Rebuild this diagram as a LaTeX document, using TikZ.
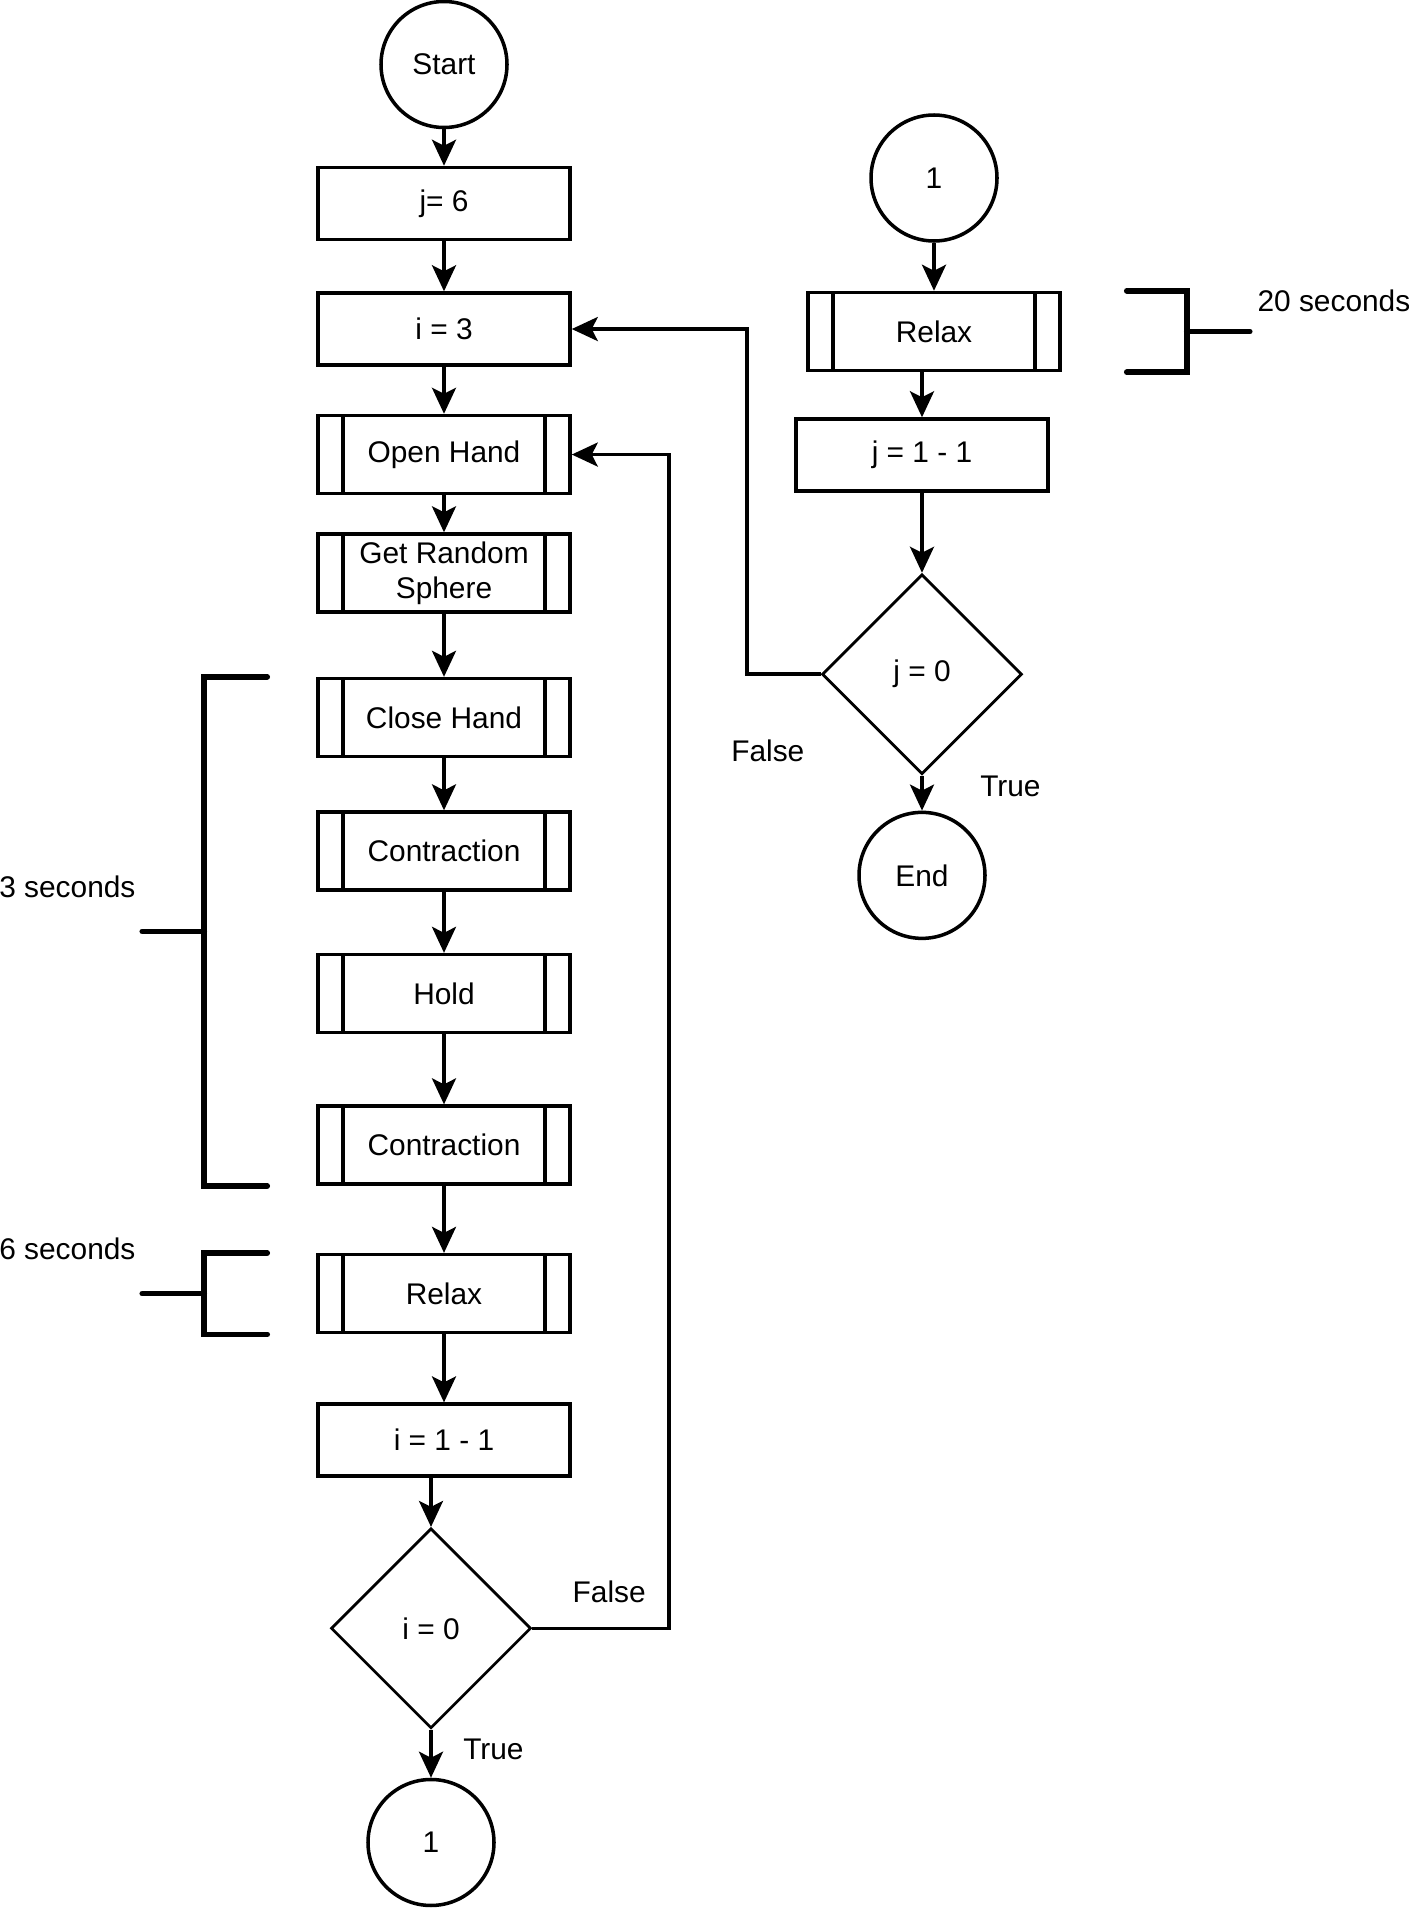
\documentclass[tikz,border=0pt]{standalone}
\usepackage{fontspec}
\setmainfont{Liberation Sans}
\usetikzlibrary{arrows.meta, positioning, shapes.geometric, calc}

\begin{document}
\begin{tikzpicture}[
  font=\fontsize{8.5}{10}\selectfont,
  line width=1pt,
  proc/.style={rectangle, draw, align=center, minimum width=2.52cm, minimum height=0.72cm, inner sep=1pt},
  sub/.style={proc, minimum height=0.78cm, path picture={
      \draw ([xshift=0.25cm]path picture bounding box.north west) -- ([xshift=0.25cm]path picture bounding box.south west);
      \draw ([xshift=-0.25cm]path picture bounding box.north east) -- ([xshift=-0.25cm]path picture bounding box.south east);}},
  term/.style={circle, draw, minimum size=1.26cm, inner sep=0pt},
  dec/.style={diamond, draw, line width=0.8pt, minimum width=2.0cm, minimum height=2.0cm, inner sep=0pt},
  arr/.style={-{Stealth[length=2.6mm, width=2.4mm, inset=0.6mm]}},
  brk/.style={line width=1.6pt, line cap=round},
  lbl/.style={inner sep=1pt}
]
\useasboundingbox (0,0) rectangle (14.09,-19.08);

% main loop
\node[term] (start) at (4.44,-0.645) {Start};
\node[proc, below=0.365cm of start] (jset) {j= 6};
\node[proc, below=0.50cm of jset] (iset) {i = 3};
\node[sub, below=0.47cm of iset] (open) {Open Hand};
\node[sub, below=0.37cm of open] (grab) {Get Random\\Sphere};
\node[sub, below=0.63cm of grab] (close) {Close Hand};
\node[sub, below=0.52cm of close] (con1) {Contraction};
\node[sub, below=0.61cm of con1] (hold) {Hold};
\node[sub, below=0.70cm of hold] (con2) {Contraction};
\node[sub, below=0.67cm of con2] (relax1) {Relax};
\node[proc, below=0.68cm of relax1] (icount) {i = 1 - 1};
\node[dec, below=0.49cm of icount, xshift=-0.13cm] (idec) {i = 0};
\node[term, below=0.48cm of idec] (conn1) {1};

\draw[arr] (start) -- (jset);
\draw[arr] (jset) -- (iset);
\draw[arr] (iset) -- (open);
\draw[arr] (open) -- (grab);
\draw[arr] (grab) -- (close);
\draw[arr] (close) -- (con1);
\draw[arr] (con1) -- (hold);
\draw[arr] (hold) -- (con2);
\draw[arr] (con2) -- (relax1);
\draw[arr] (relax1) -- (icount);
\draw[arr] (icount.south -| idec.north) -- (idec.north);
\draw[arr] (idec) -- node[lbl, right=0.27cm, pos=0.4] {True} (conn1);

\coordinate[right=0.97cm of open.east] (loop1);
\draw[arr] (idec.east) -| (loop1) -- (open.east);
\node[lbl, above right=0.20cm and 0.35cm of idec.east] {False};

% rest block
\node[term] (conn2) at (9.34,-1.78) {1};
\node[sub, below=0.48cm of conn2] (relax2) {Relax};
\node[proc, below=0.45cm of relax2, xshift=-0.12cm] (jcount) {j = 1 - 1};
\node[dec, below=0.80cm of jcount] (jdec) {j = 0};
\node[term, below=0.35cm of jdec] (finish) {End};

\draw[arr] (conn2) -- (relax2);
\draw[arr] (relax2.south -| jcount.north) -- (jcount.north);
\draw[arr] (jcount) -- (jdec);
\draw[arr] (jdec) -- node[lbl, right=0.53cm, pos=0.3] {True} (finish);

\coordinate[right=1.75cm of iset.east] (loop2);
\draw[arr] (jdec.west) -| (loop2) -- (iset.east);
\node[lbl, below left=0.60cm and 0.11cm of jdec.west] {False};

% timing brackets
\coordinate (b3top) at ([xshift=-1.12cm]close.north west);
\coordinate (b3bot) at ([xshift=-1.12cm]con2.south west);
\coordinate (b3mid) at ($(b3top)!0.5!(b3bot)$);
\draw[brk] ([xshift=-0.49cm]close.north west) -- (b3top) -- (b3bot) -- ([xshift=-0.49cm]con2.south west);
\draw[brk] (b3mid) -- ++(-0.62,0);
\node[lbl, anchor=south east] at ($(b3mid)+(-0.635,0.285)$) {3 seconds};

\coordinate (b6top) at ([xshift=-1.12cm]relax1.north west);
\coordinate (b6bot) at ([xshift=-1.12cm]relax1.south west);
\coordinate (b6mid) at ($(b6top)!0.5!(b6bot)$);
\draw[brk] ([xshift=-0.49cm]relax1.north west) -- (b6top) -- (b6bot) -- ([xshift=-0.49cm]relax1.south west);
\draw[brk] (b6mid) -- ++(-0.62,0);
\node[lbl, anchor=south east] at ($(b6mid)+(-0.635,0.285)$) {6 seconds};

\coordinate (b20top) at ([xshift=1.25cm]relax2.north east);
\coordinate (b20bot) at ([xshift=1.25cm]relax2.south east);
\coordinate (b20mid) at ($(b20top)!0.5!(b20bot)$);
\draw[brk] ([xshift=0.65cm]relax2.north east) -- (b20top) -- (b20bot) -- ([xshift=0.65cm]relax2.south east);
\draw[brk] (b20mid) -- ++(0.63,0);
\node[lbl, anchor=south west] at ($(b20mid)+(0.655,0.145)$) {20 seconds};

\end{tikzpicture}
\end{document}
